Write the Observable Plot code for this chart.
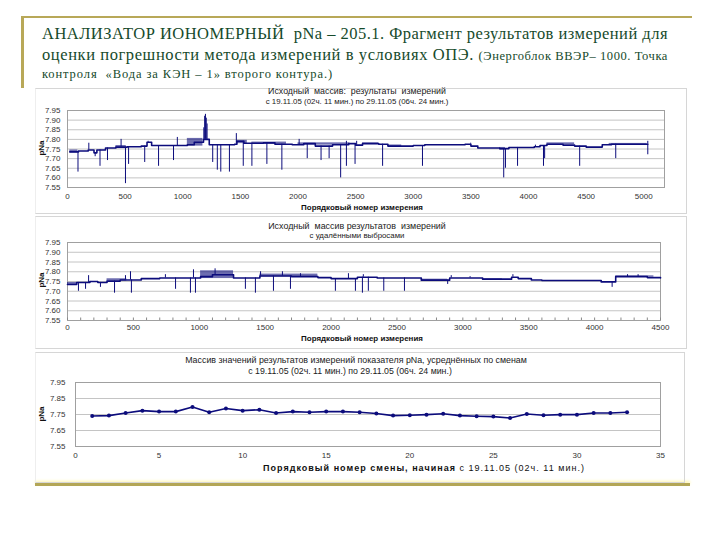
<!DOCTYPE html>
<html><head><meta charset="utf-8">
<script src="https://cdn.jsdelivr.net/npm/d3@7"></script>
<script src="https://cdn.jsdelivr.net/npm/@observablehq/plot@0.6"></script>
<style>
body{margin:0;background:#fff;}
#slide{position:relative;width:720px;height:540px;overflow:hidden;font-family:"Liberation Sans",Arial,sans-serif;background:#fff;}
.abs{position:absolute;}
.hd{font-family:"Liberation Serif","DejaVu Serif","Times New Roman",serif;color:#164a2b;white-space:nowrap;font-size:16.5px;left:42px;}
.sm{font-size:12.5px;}
.ct{position:absolute;font-size:8px;color:#222;white-space:nowrap;transform:translateX(-50%);}
.xt{position:absolute;font-size:8px;color:#111;font-weight:bold;white-space:nowrap;transform:translateX(-50%);}
.yl{position:absolute;font-size:8px;color:#111;font-weight:bold;transform:translate(-50%,-50%) rotate(-90deg);}
.box{position:absolute;border:1px solid #d6d6d6;}
svg{position:absolute;}
</style></head>
<body><div id="slide">
<div class="abs" style="left:22px;top:16px;width:670px;height:2px;background:#b8a858"></div>
<div class="abs" style="left:21px;top:16px;width:3px;height:72px;background:#b8a858"></div>
<div class="abs" style="left:35px;top:483px;width:655px;height:3px;background:#b3a656;box-shadow:0 -2px 3px #fff6b0"></div>

<div class="abs hd" data-ls="626" style="top:24px">АНАЛИЗАТОР ИОНОМЕРНЫЙ&nbsp; pNa – 205.1. Фрагмент результатов измерений для</div>
<div class="abs hd" data-ls="626" style="top:45px">оценки погрешности метода измерений в условиях ОПЭ. <span class="sm">(Энергоблок ВВЭР– 1000. Точка</span></div>
<div class="abs hd sm" data-ls="291" style="top:67px">контроля&nbsp; «Вода за КЭН – 1» второго контура.)</div>

<div class="box" style="left:35px;top:88px;width:650px;height:124px;border-left-color:#eee"></div>
<div class="box" style="left:35px;top:216px;width:650px;height:131px;border-left-color:#eee"></div>
<div class="box" style="left:35px;top:352px;width:648px;height:129px;border-left-color:#eee"></div>

<div class="ct" data-fs="178" style="left:357px;top:86px">Исходный&nbsp; массив:&nbsp; результаты&nbsp; измерений</div>
<div class="ct" data-fs="183" style="left:357px;top:97px">с 19.11.05 (02ч. 11 мин.) по 29.11.05 (06ч. 24 мин.)</div>
<div class="xt" data-fs="122" style="left:362px;top:203px">Порядковый номер измерения</div>
<div class="yl" style="left:41px;top:148px">pNa</div>

<div class="ct" data-fs="178" style="left:357px;top:221px">Исходный&nbsp; массив результатов&nbsp; измерений</div>
<div class="ct" data-fs="95" style="left:357px;top:231px">с удалёнными выбросами</div>
<div class="xt" data-fs="122" style="left:362px;top:334px">Порядковый номер измерения</div>
<div class="yl" style="left:41px;top:280px">pNa</div>

<div class="ct" data-fs="342" style="left:356px;top:355px">Массив значений результатов измерений показателя pNa, усреднённых по сменам</div>
<div class="ct" data-fs="204" style="left:350px;top:366px">с 19.11.05 (02ч. 11 мин.) по 29.11.05 (06ч. 24 мин.)</div>
<div class="xt" data-ls="322" style="left:424px;top:463px;font-size:9px">Порядковый номер смены, начиная <span style="font-weight:normal">с 19.11.05 (02ч. 11 мин.)</span></div>
<div class="yl" style="left:41px;top:414px">pNa</div>
</div>
<script>
// ---------- Chart 1: raw measurements ----------
const xTicks1 = [0,500,1000,1500,2000,2500,3000,3500,4000,4500,5000];
const yTicks1 = [7.55,7.60,7.65,7.70,7.75,7.80,7.85,7.90,7.95];
// baseline level [measurement number, pNa] (step)
const level1 = [[20,7.735],[95,7.74],[180,7.745],[230,7.73],[255,7.745],[330,7.755],[420,7.76],[520,7.762],[640,7.765],[690,7.785],[730,7.768],[1040,7.772],[1100,7.785],[1180,7.80],[1230,7.772],[1450,7.775],[1470,7.79],[1530,7.78],[1700,7.782],[1800,7.775],[1950,7.772],[2050,7.778],[2150,7.765],[2300,7.772],[2440,7.778],[2500,7.77],[2560,7.778],[2700,7.775],[2780,7.765],[3000,7.768],[3100,7.772],[3450,7.775],[3500,7.765],[3560,7.755],[3750,7.752],[3830,7.758],[4050,7.762],[4100,7.768],[4160,7.775],[4300,7.77],[4400,7.765],[4500,7.76],[4640,7.772],[4720,7.775],[5035,7.775]];
// single-measurement excursions [measurement number, pNa]
const spikes1 = [[91,7.63],[240,7.71],[282,7.66],[347,7.69],[503,7.57],[530,7.67],[670,7.68],[790,7.66],[920,7.69],[1260,7.68],[1300,7.64],[1330,7.63],[1405,7.63],[1525,7.66],[1600,7.66],[1730,7.67],[1860,7.64],[2080,7.70],[2200,7.69],[2270,7.70],[2370,7.60],[2420,7.66],[2495,7.67],[2734,7.66],[3080,7.66],[3785,7.60],[3800,7.65],[3905,7.66],[4130,7.66],[4140,7.70],[4444,7.66],[4757,7.70],[5035,7.72],
  [185,7.78],[465,7.80],[700,7.79],[953,7.81],[1183,7.86],[1190,7.92],[1197,7.93],[1204,7.91],[1211,7.88],[1465,7.83],[2010,7.80],[2420,7.79],[2509,7.79],[3498,7.78],[4060,7.77],[5035,7.79]];
// dense scatter ranges [from, to, low, high]
const bands1 = [[20,90,7.73,7.745],[420,510,7.752,7.768],[1040,1175,7.765,7.805],[1470,1560,7.778,7.795],[1600,1900,7.774,7.786],[2000,2450,7.77,7.782],[2560,2700,7.773,7.782],[2780,2900,7.762,7.771],[3750,3800,7.745,7.758],[4160,4400,7.773,7.782],[4700,5030,7.772,7.779]];

// ---------- Chart 2: outliers removed ----------
const xTicks2 = [0,500,1000,1500,2000,2500,3000,3500,4000,4500];
const yTicks2 = [7.55,7.60,7.65,7.70,7.75,7.80,7.85,7.90,7.95];
const level2 = [[0,7.735],[70,7.745],[170,7.75],[230,7.745],[300,7.752],[400,7.758],[560,7.765],[700,7.768],[1010,7.775],[1100,7.785],[1260,7.768],[1460,7.778],[1700,7.775],[1900,7.77],[2000,7.765],[2200,7.772],[2350,7.768],[2685,7.757],[2900,7.768],[3150,7.762],[3370,7.772],[3420,7.765],[3520,7.758],[3600,7.755],[4050,7.748],[4160,7.775],[4400,7.77],[4500,7.768]];
const spikes2 = [[83,7.70],[137,7.71],[250,7.72],[357,7.69],[485,7.69],[820,7.71],[933,7.69],[971,7.69],[1350,7.71],[1426,7.69],[1563,7.70],[1692,7.71],[2033,7.70],[2185,7.70],[2238,7.69],[2283,7.70],[2400,7.70],[2557,7.70],[2885,7.735],[4133,7.72],
  [160,7.78],[440,7.78],[478,7.80],[743,7.785],[956,7.81],[1120,7.815],[1465,7.80],[1631,7.80],[1768,7.79],[2132,7.79],[2245,7.785],[2912,7.78],[3055,7.775],[3380,7.785],[4250,7.785],[4330,7.785]];
const bands2 = [[0,70,7.73,7.745],[300,450,7.752,7.764],[1010,1260,7.765,7.805],[1460,1900,7.774,7.788],[2685,2885,7.751,7.762],[3150,3300,7.756,7.764],[4160,4450,7.772,7.779]];

// ---------- Chart 3: shift averages ----------
const shifts = [1,2,3,4,5,6,7,8,9,10,11,12,13,14,15,16,17,18,19,20,21,22,23,24,25,26,27,28,29,30,31,32,33];
const shiftMeans = [7.741,7.743,7.759,7.774,7.768,7.768,7.797,7.764,7.788,7.774,7.780,7.759,7.768,7.764,7.768,7.768,7.764,7.756,7.743,7.745,7.749,7.755,7.743,7.739,7.737,7.728,7.753,7.745,7.749,7.749,7.759,7.759,7.764];
const xTicks3 = [0,5,10,15,20,25,30,35];
const yTicks3 = [7.55,7.65,7.75,7.85,7.95];

const navy = "#0c0c7c";
const style = {fontSize:"8px", fontFamily:"Liberation Sans, Arial, sans-serif", color:"#333", background:"transparent", overflow:"visible"};
function base(levels, x){ let y = levels[0][1]; for (const [lx,ly] of levels){ if (lx <= x) y = ly; else break; } return y; }

function rawChart(level, spikes, bands, xT, yT, xmax, mr, height, minor, pad){
  const marks = [
    Plot.gridY(yT, {stroke:"#c4c4c4", strokeOpacity:1}),
    Plot.frame({stroke:"#a0a0a0"}),
    Plot.axisY(yT, {tickSize:0, tickPadding:7, tickFormat:d3.format(".2f"), label:null}),
    Plot.axisX(xT, {tickSize:0, tickPadding:pad, tickFormat:d=>String(d), label:null}),
    Plot.rect(bands, {x1:d=>d[0], x2:d=>d[1], y1:d=>d[2], y2:d=>d[3], fill:navy, fillOpacity:0.6}),
    Plot.ruleX(spikes, {x:d=>d[0], y1:d=>base(level,d[0]), y2:d=>d[1], stroke:navy, strokeWidth:1}),
    Plot.line(level, {x:d=>d[0], y:d=>d[1], curve:"step-after", stroke:navy, strokeWidth:1.6})
  ];
  if (minor) marks.splice(2,0, Plot.axisX(minor, {tickSize:-2.5, tickFormat:()=> "", stroke:"#888", label:null}));
  return Plot.plot({width:640, height, marginLeft:32, marginRight:mr, marginTop:6, marginBottom:21,
    x:{domain:[0,xmax]}, y:{domain:[7.55,7.95]}, style, marks});
}
const slide = document.getElementById("slide");
const c1 = rawChart(level1, spikes1, bands1, xTicks1, yTicks1, 5180, 11, 104, null, 6);
c1.style.left="35px"; c1.style.top="104px"; slide.appendChild(c1);
const minor2 = d3.range(0, 4501, 100);
const c2 = rawChart(level2, spikes2, bands2, xTicks2, yTicks2, 4500, 15, 105, minor2, 4);
c2.style.left="35px"; c2.style.top="236px"; slide.appendChild(c2);

const data3 = shifts.map((s,i)=>({s, v:shiftMeans[i]}));
const c3 = Plot.plot({width:640, height:90, marginLeft:40, marginRight:15, marginTop:6, marginBottom:20,
  x:{domain:[0,35]}, y:{domain:[7.55,7.95]}, style,
  marks:[
    Plot.gridY(yTicks3, {stroke:"#c4c4c4", strokeOpacity:1}),
    Plot.frame({stroke:"#a0a0a0"}),
    Plot.axisY(yTicks3, {tickSize:0, tickPadding:10, tickFormat:d3.format(".2f"), label:null}),
    Plot.axisX(xTicks3, {tickSize:0, tickPadding:6, label:null}),
    Plot.line(data3, {x:"s", y:"v", stroke:navy, strokeWidth:1.6}),
    Plot.dot(data3, {x:"s", y:"v", r:2, fill:navy, stroke:null})
  ]});
c3.style.left="35px"; c3.style.top="376px"; slide.appendChild(c3);

// fit header lines by letter spacing, chart texts by font size
document.querySelectorAll("[data-ls]").forEach(el => {
  const target = +el.dataset.ls;
  const w = el.getBoundingClientRect().width;
  el.style.letterSpacing = ((target - w) / el.textContent.length) + "px";
});
document.querySelectorAll("[data-fs]").forEach(el => {
  const target = +el.dataset.fs;
  const w = el.getBoundingClientRect().width;
  el.style.fontSize = Math.min(10, 8 * target / w) + "px";
});
</script>
</body></html>
